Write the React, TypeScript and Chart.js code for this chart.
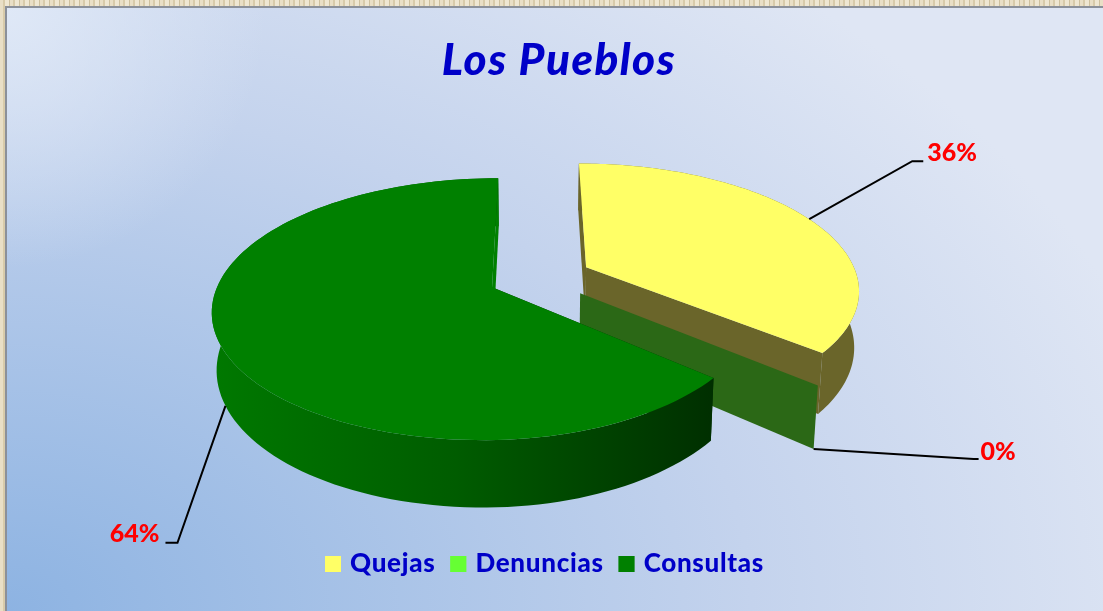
import React, { useEffect, useRef } from "react";
import { Chart, registerables } from "chart.js";

Chart.register(...registerables);

// ---- data ----
const categories = ["Quejas", "Denuncias", "Consultas"];
const values = [36, 0, 64];
const chartTitle = "Los Pueblos";

// ---- styles ----
const faceColors = ["#ffff66", "#66ff33", "#008000"];
const wallColors = ["#6a652a", "#2b6816", "#002f00"];
const explodeX = [0.191, 0.163, -0.156];
const explodeY = [-0.161, 0.047, 0];
const rimSquash = [1, 0.97, 0.955];
// leader line: elbow offset, tail offset, label offset (all from the rim anchor)
const leaderElbow = [[103, -58], [160, 10], [-48, 137]];
const leaderTail = [[11, 0], [5, 0], [-12, 0]];
const labelAt = [[118, -66], [167, 3], [-66, 128]];
const labelAlign: CanvasTextAlign[] = ["left", "left", "right"];

const BLUE = "#0000c8";
const FONT = "Lato";
const PIE_RADIUS = 200;
const LEGEND_BOX = 16;
const VIEW = { cxFrac: 0.485, cyFrac: 0.47, rx: 1.375, ry: 0.6365, tilt: 0.168, depth: 0.28, baseScale: 0.985 };

const pie3d = {
  id: "pie3d",
  beforeDatasetsDraw(chart: any) {
    const ctx: CanvasRenderingContext2D = chart.ctx;
    const arcs = chart.getDatasetMeta(0).data;
    const r = arcs[0].outerRadius;
    const cx = chart.width * VIEW.cxFrac;
    const cy = chart.height * VIEW.cyFrac;
    const Rx = r * VIEW.rx;
    const Ry = r * VIEW.ry;
    const D = r * VIEW.depth;

    const project = (i: number, u: number, v: number, low: boolean) => {
      const wx = explodeX[i] + (u > 0 ? u * rimSquash[i] : u);
      const wy = explodeY[i] + v;
      const den = 1 - VIEW.tilt * wy;
      const sx = low ? VIEW.baseScale : 1;
      return [cx + (Rx * wx * sx) / den, cy + (Ry * wy + (low ? D : 0)) / den];
    };
    const rim = (i: number, a: number, low: boolean) => project(i, Math.cos(a), Math.sin(a), low);
    const poly = (pts: number[][], fill: any) => {
      ctx.beginPath();
      pts.forEach((p, k) => (k ? ctx.lineTo(p[0], p[1]) : ctx.moveTo(p[0], p[1])));
      ctx.closePath();
      ctx.fillStyle = fill;
      ctx.fill();
    };
    const angles = (s: number, e: number) => {
      const out: number[] = [];
      const n = 120;
      for (let k = 0; k <= n; k++) out.push(s + ((e - s) * k) / n);
      return out;
    };

    const drawSlice = (i: number) => {
      const { startAngle: s, endAngle: e } = arcs[i];
      const apexT = project(i, 0, 0, false);
      const apexB = project(i, 0, 0, true);
      const as = angles(s, e);
      if (e - s < 1e-6) {
        poly([apexT, rim(i, s, false), rim(i, s, true), apexB], wallColors[i]);
        return;
      }
      let sideFill: any = wallColors[i];
      if (i === 2) {
        const g = ctx.createLinearGradient(cx - Rx - 60, 0, rim(i, s, false)[0], 0);
        g.addColorStop(0, "#007a00");
        g.addColorStop(0.5, "#005c00");
        g.addColorStop(1, "#002f00");
        sideFill = g;
      }
      // side walls
      poly([apexT, rim(i, s, false), rim(i, s, true), apexB], wallColors[i]);
      poly([...as.map((a) => rim(i, a, false)), ...as.slice().reverse().map((a) => rim(i, a, true))], sideFill);
      poly([apexT, rim(i, e, false), rim(i, e, true), apexB], i === 2 ? "#008000" : wallColors[i]);
      // top face
      poly([apexT, ...as.map((a) => rim(i, a, false))], faceColors[i]);
    };

    // back to front
    drawSlice(0);
    drawSlice(1);
    drawSlice(2);

    // leader lines and labels
    const total = values.reduce((a, b) => a + b, 0);
    arcs.forEach((arc: any, i: number) => {
      const mid = (arc.startAngle + arc.endAngle) / 2;
      const low = i !== 0;
      const p = rim(i, mid, low);
      const ex = p[0] + leaderElbow[i][0];
      const ey = p[1] + leaderElbow[i][1];
      ctx.beginPath();
      ctx.moveTo(p[0], p[1]);
      ctx.lineTo(ex, ey);
      ctx.lineTo(ex + leaderTail[i][0], ey + leaderTail[i][1]);
      ctx.strokeStyle = "#000000";
      ctx.lineWidth = 2;
      ctx.stroke();
      ctx.font = `900 25px ${FONT}`;
      ctx.fillStyle = "#ff0000";
      ctx.textAlign = labelAlign[i];
      ctx.textBaseline = "middle";
      ctx.fillText(`${Math.round((values[i] / total) * 100)}%`, p[0] + labelAt[i][0], p[1] + labelAt[i][1]);
    });
    return false;
  },
};

const spaced = (ctx: any, box: any, spacing: string) => {
  const draw = box.draw;
  box.draw = function (area: any) {
    ctx.letterSpacing = spacing;
    draw.call(box, area);
    ctx.letterSpacing = "0px";
  };
};

const LEGEND_SPACING = "0.7px";

const layoutTweaks = {
  id: "layoutTweaks",
  beforeLayout(c: any) {
    c.ctx.letterSpacing = LEGEND_SPACING;
  },
  afterLayout(c: any) {
    c.ctx.letterSpacing = "0px";
    c.legend.left -= 7;
    c.legend.right -= 7;
    c.titleBlock.left += 7.5;
    c.titleBlock.right += 7.5;
    spaced(c.ctx, c.legend, LEGEND_SPACING);
    spaced(c.ctx, c.titleBlock, "1.5px");
  },
  afterDraw(c: any) {
    // legend swatches are wider than the gap the library leaves before the text
    const ctx = c.ctx;
    (c.legend.legendItems || []).forEach((item: any, i: number) => {
      const hb = c.legend.legendHitBoxes[i];
      ctx.fillStyle = item.fillStyle;
      ctx.fillRect(hb.left, hb.top + (hb.height - LEGEND_BOX) / 2, LEGEND_BOX, LEGEND_BOX);
    });
  },
};

export default function App() {
  const ref = useRef<HTMLCanvasElement>(null);
  useEffect(() => {
    const chart = new Chart(ref.current as HTMLCanvasElement, {
      type: "pie",
      data: {
        labels: categories,
        datasets: [{ data: values, backgroundColor: faceColors, borderWidth: 0, radius: PIE_RADIUS } as any],
      },
      plugins: [pie3d, layoutTweaks],
      options: {
        responsive: false,
        animation: false,
        layout: { padding: { bottom: 24 } },
        plugins: {
          tooltip: { enabled: false },
          title: {
            display: true,
            text: chartTitle,
            color: BLUE,
            font: { family: FONT, size: 44, style: "italic", weight: "900" },
            padding: { top: 34, bottom: 10 },
          },
          legend: {
            position: "bottom",
            labels: {
              color: BLUE,
              boxWidth: 12,
              boxHeight: LEGEND_BOX,
              padding: 15,
              font: { family: FONT, size: 26, weight: "900" },
            },
          },
        },
      } as any,
    });
    return () => chart.destroy();
  }, []);

  return (
    <div
      style={{
        position: "fixed",
        inset: 0,
        background:
          "repeating-linear-gradient(90deg,#e9dfc6 0 3px,#d8cbaa 3px 5px,#efe7d2 5px 9px,#cfc19f 9px 10px)",
      }}
    >
      <div
        style={{
          position: "absolute",
          left: 5,
          top: 6,
          right: 0,
          bottom: 0,
          borderLeft: "2px solid #8b9099",
          borderTop: "2px solid #8b9099",
          background:
            "radial-gradient(circle 260px at 0 0, rgba(224,233,247,.95), rgba(224,233,247,0)), radial-gradient(ellipse 1200px 820px at 0% 100%, #8db3e2 0%, #c4d3ed 62%, #dfe6f4 100%)",
        }}
      />
      <canvas ref={ref} width={1103} height={611} style={{ position: "absolute", left: 0, top: 0, display: "block" }} />
    </div>
  );
}
